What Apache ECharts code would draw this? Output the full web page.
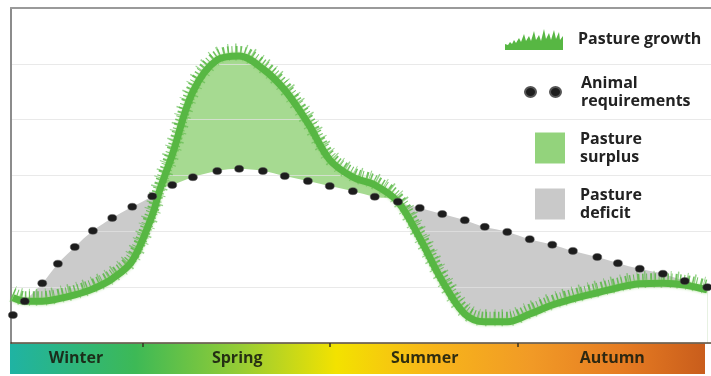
<!DOCTYPE html>
<html>
<head>
<meta charset="utf-8">
<script src="https://cdn.jsdelivr.net/npm/echarts@6/dist/echarts.min.js"></script>
<style>
  html, body { margin: 0; padding: 0; background: #ffffff; }
  #chart { width: 711px; height: 376px; }
</style>
</head>
<body>
<div id="chart"></div>
<script>
// Position in the year (months) of each sample, taken at the hoof marks
const months = [0.93, 1.12, 1.40, 1.65, 1.92, 2.21, 2.52, 2.84, 3.16, 3.48, 3.81, 4.20, 4.55, 4.93, 5.28, 5.65, 6.00,
  6.37, 6.72, 7.09, 7.44, 7.80, 8.16, 8.48, 8.84, 9.20, 9.56, 9.89, 10.28, 10.61, 10.96, 11.33, 11.68, 12.04];
// Pasture growth at each sample
const growth = [0.81, 0.75, 0.75, 0.79, 0.86, 0.97, 1.15, 1.47, 2.29, 3.37, 4.50, 5.07, 5.14, 4.91, 4.53, 3.94, 3.28,
  2.97, 2.83, 2.53, 1.88, 1.11, 0.52, 0.38, 0.38, 0.52, 0.68, 0.79, 0.90, 0.99, 1.06, 1.07, 1.04, 0.95];
// Animal feed requirements at each sample
const requirement = [0.50, 0.75, 1.07, 1.42, 1.72, 2.01, 2.24, 2.44, 2.63, 2.83, 2.97, 3.08, 3.12, 3.08, 2.99, 2.90, 2.81,
  2.72, 2.62, 2.53, 2.42, 2.31, 2.20, 2.08, 1.99, 1.86, 1.76, 1.65, 1.54, 1.43, 1.33, 1.24, 1.11, 1.00];
// Spring point where growth overtakes requirements [month, value]
const springCrossing = [3.28, 2.74];

const seasons = ['Winter', 'Spring', 'Summer', 'Autumn'];
const seasonCentres = [1.94, 4.52, 7.52, 10.52];
const seasonBreaks = [3, 6, 9];

const legendText = {
  'Pasture growth': 'Pasture growth',
  'Animal requirements': 'Animal\nrequirements',
  'Pasture surplus': 'Pasture\nsurplus',
  'Pasture deficit': 'Pasture\ndeficit'
};

// ---- derived series ----
const reqPoints = months.map((m, i) => [m, requirement[i]]);

// Shading samples start where the two curves first meet
const shade = [];
for (let i = 1; i < months.length; i++) {
  shade.push([months[i], growth[i], requirement[i]]);
  if (i + 1 < months.length && months[i] < springCrossing[0] && months[i + 1] > springCrossing[0]) {
    shade.push([springCrossing[0], springCrossing[1], springCrossing[1]]);
  }
}
const firstGrowth = [months[0], growth[0]];
const growthLine = [firstGrowth].concat(shade.map(s => [s[0], s[1]]));
const shadeGrowth = shade.map(s => [s[0], s[1]]);
const upperEdge = shade.map(s => [s[0], Math.max(s[1], s[2])]);
const lowerEdge = [firstGrowth].concat(shade.map(s => [s[0], Math.min(s[1], s[2])]));

const GREEN = '#57b743';
const SMOOTH = 0.35;
const FONT = 'Open Sans';

const grassIcon = 'path://M0,22 L0,16 L3,17 L5,14 L7,16 L9,12 L11,15 L14,10 L16,14 L19,6 L21,13 L24,8 L26,13 L29,3 L31,12 L34,7 L36,13 L39,1 L41,11 L44,5 L46,12 L49,2 L51,11 L54,4 L55,12 L58,8 L58,22 Z';
const hoofIcon = 'path://M0,5.5a5.5,5 0 1,0 11,0a5.5,5 0 1,0 -11,0z M25,5.5a5.5,5 0 1,0 11,0a5.5,5 0 1,0 -11,0z';
const hoofMark = 'path://M0,4a5,4 0 1,0 10,0a5,4 0 1,0 -10,0z';

const legendBase = {
  orient: 'vertical',
  padding: 0,
  selectedMode: false,
  formatter: name => legendText[name],
  textStyle: {
    fontFamily: FONT, fontWeight: 'bold', fontSize: 16, lineHeight: 18, color: '#222222',
    padding: [0, 0, 0, 10]
  }
};

// area layers: requirement-or-growth ceiling (grey), growth (green), then the floor cleared back to white
function areaLayer(name, data, color, z) {
  return {
    name: name, type: 'line', data: data, smooth: SMOOTH, symbol: 'none', silent: true, z: z,
    lineStyle: { width: 0, opacity: 0 },
    areaStyle: { color: color, opacity: 1 }
  };
}

const chart = echarts.init(document.getElementById('chart'), null, { renderer: 'canvas' });
chart.setOption({
  animation: false,
  backgroundColor: '#ffffff',
  grid: [
    { left: 11, right: 0, top: 8, bottom: 33 },
    // same plot, lifted a few pixels, for the grass blades on top of the growth curve
    { left: 11, right: 0, top: 4, bottom: 37 }
  ],
  xAxis: [
    {
      type: 'value', gridIndex: 0, min: 0.9, max: 12.1, z: 6,
      splitLine: { show: false },
      axisLine: { show: true, lineStyle: { color: 'rgba(60,45,25,0.85)', width: 1.5 } },
      axisTick: { show: true, customValues: seasonBreaks, length: 4, lineStyle: { color: '#3a3322', width: 1.5 } },
      axisLabel: {
        show: true, customValues: seasonCentres, margin: 7,
        formatter: v => seasons[seasonCentres.findIndex(c => Math.abs(c - v) < 1e-6)],
        fontFamily: FONT, fontWeight: 'bold', fontSize: 16, color: 'rgba(25,30,15,0.9)'
      }
    },
    {
      type: 'value', gridIndex: 0, position: 'top', min: 0.9, max: 12.1, z: 6,
      splitLine: { show: false }, axisTick: { show: false }, axisLabel: { show: false },
      axisLine: { show: true, lineStyle: { color: '#9a9a9a', width: 2 } }
    },
    {
      type: 'value', gridIndex: 1, min: 0.9, max: 12.1, show: false
    }
  ],
  yAxis: [
    {
      type: 'value', gridIndex: 0, min: 0, max: 6, interval: 1, z: 3,
      axisLabel: { show: false }, axisTick: { show: false },
      axisLine: { show: true, lineStyle: { color: '#8c8c8c', width: 2 } },
      splitLine: { show: true, lineStyle: { color: '#e2e2e2', width: 1, opacity: 0.75 } }
    },
    { type: 'value', gridIndex: 1, min: 0, max: 6, show: false }
  ],
  legend: [
    Object.assign({}, legendBase, {
      left: 505, top: 29, itemWidth: 58, itemHeight: 22,
      data: [{ name: 'Pasture growth', icon: grassIcon, itemStyle: { color: GREEN } }],
      textStyle: Object.assign({}, legendBase.textStyle, { padding: [0, 0, 0, 10] })
    }),
    Object.assign({}, legendBase, {
      left: 524, top: 74, itemWidth: 36, itemHeight: 11,
      data: [{ name: 'Animal requirements', icon: hoofIcon, itemStyle: { color: '#1d1d1d' } }],
      textStyle: Object.assign({}, legendBase.textStyle, { padding: [0, 0, 0, 15] })
    }),
    Object.assign({}, legendBase, {
      left: 535, top: 130, itemWidth: 30, itemHeight: 31,
      data: [{ name: 'Pasture surplus', icon: 'rect', itemStyle: { color: '#93d37c' } }]
    }),
    Object.assign({}, legendBase, {
      left: 535, top: 186, itemWidth: 30, itemHeight: 31,
      data: [{ name: 'Pasture deficit', icon: 'rect', itemStyle: { color: '#c9c9c9' } }]
    })
  ],
  graphic: [
    {
      type: 'rect', z: 1, silent: true,
      shape: { x: 10, y: 343, width: 695, height: 31 },
      style: {
        fill: new echarts.graphic.LinearGradient(0, 0, 1, 0, [
          { offset: 0.00, color: '#1fb3a3' },
          { offset: 0.18, color: '#3db956' },
          { offset: 0.33, color: '#95cc35' },
          { offset: 0.47, color: '#f3e200' },
          { offset: 0.60, color: '#f8b719' },
          { offset: 0.75, color: '#f19a26' },
          { offset: 0.88, color: '#e67c22' },
          { offset: 1.00, color: '#c95d1c' }
        ])
      }
    }
  ],
  series: [
    areaLayer('Pasture deficit', upperEdge, '#cbcbcb', 1),
    areaLayer('Pasture surplus', shadeGrowth, '#a6da91', 1),
    areaLayer('floor', lowerEdge, '#ffffff', 1),
    {
      name: 'Pasture growth', type: 'line', xAxisIndex: 2, yAxisIndex: 1, data: growthLine,
      smooth: SMOOTH, symbol: 'none', silent: true, z: 4,
      lineStyle: { color: GREEN, width: 12, type: [1.5, 2.5, 1, 3, 2, 2.5], cap: 'butt', opacity: 0.85 }
    },
    {
      name: 'Pasture growth', type: 'line', xAxisIndex: 2, yAxisIndex: 1, data: growthLine,
      smooth: SMOOTH, symbol: 'none', silent: true, z: 4,
      lineStyle: { color: GREEN, width: 17, type: [1, 6, 1.5, 8], cap: 'butt', opacity: 0.6 }
    },
    {
      name: 'Pasture growth', type: 'line', data: growthLine,
      smooth: SMOOTH, symbol: 'none', z: 5,
      lineStyle: { color: GREEN, width: 7, shadowColor: 'rgba(140,210,110,0.8)', shadowBlur: 3 }
    },
    {
      name: 'Animal requirements', type: 'line', data: reqPoints,
      symbol: hoofMark, symbolSize: [9, 7], showSymbol: true, showAllSymbol: true, symbolKeepAspect: false,
      lineStyle: { width: 0, opacity: 0 }, itemStyle: { color: '#1d1d1d', borderColor: '#555555', borderWidth: 0.5 }, z: 6
    }
  ]
});
</script>
</body>
</html>
